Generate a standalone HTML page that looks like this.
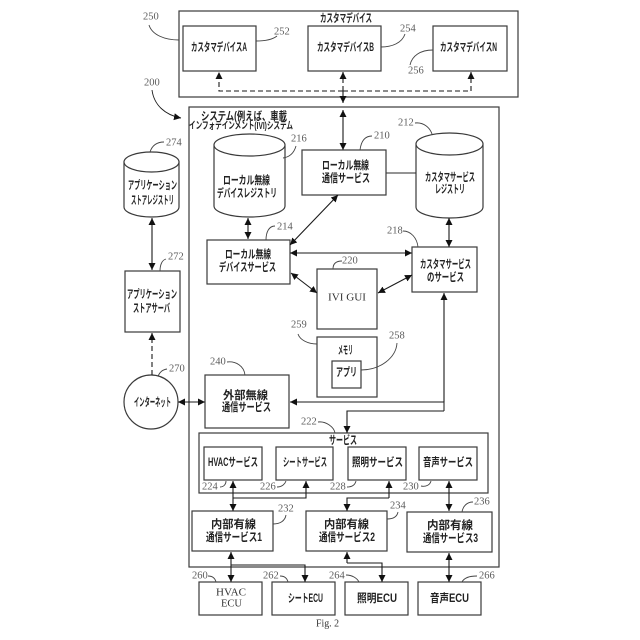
<!DOCTYPE html>
<html><head><meta charset="utf-8"><style>
html,body{margin:0;padding:0;background:#fff}
svg{display:block}
.b{fill:#fff;stroke:#3a3a3a;stroke-width:1.2}
.l{fill:none;stroke:#2a2a2a;stroke-width:1.1}
.a{fill:none;stroke:#1a1a1a;stroke-width:1.1;marker-start:url(#m);marker-end:url(#m)}
.e{fill:none;stroke:#1a1a1a;stroke-width:1.1;marker-end:url(#m)}
.d{stroke-dasharray:5 3}
.k{fill:none;stroke:#444;stroke-width:.9}
text{dominant-baseline:central}
.j{font-family:"Liberation Sans","Noto Sans CJK JP",sans-serif;font-size:11.5px;font-weight:700;fill:#222}
.n{font-family:"Liberation Serif",serif;font-size:10.5px;fill:#5c5c5c}
.s{font-family:"Liberation Serif",serif;font-size:10.5px;fill:#333}
</style></head><body>
<svg width="640" height="640" viewBox="0 0 640 640" xmlns="http://www.w3.org/2000/svg">
<defs><marker id="m" markerUnits="userSpaceOnUse" markerWidth="8" markerHeight="8" refX="7" refY="3.5" orient="auto-start-reverse"><path d="M0 0L7 3.5L0 7Z" fill="#111"/></marker></defs>
<rect width="640" height="640" fill="#fff"/>

<rect class="b" x="179" y="11" width="339" height="86"/>
<rect class="b" x="183" y="26" width="73" height="45"/>
<rect class="b" x="308" y="26" width="73" height="45"/>
<rect class="b" x="433" y="26" width="74" height="45"/>
<rect class="b" x="189" y="107" width="310" height="460"/>

<path class="e d" d="M343 91H219V72"/>
<path class="e d" d="M343 91H471V72"/>
<path class="e d" d="M343 91V72"/>
<path class="e d" d="M343 91V103"/>
<path class="a" d="M343 110V150"/>

<path class="b" d="M124 162V207A27.500 10 0 0 0 179 207V162Z"/>
<ellipse class="b" cx="151.500" cy="162" rx="27.500" ry="10"/>
<path class="b" d="M214 146V206A35.500 11 0 0 0 285 206V146Z"/>
<ellipse class="b" cx="249.500" cy="145" rx="35.500" ry="11"/>
<path class="b" d="M416 145V207A33.500 11 0 0 0 483 207V145Z"/>
<ellipse class="b" cx="449.500" cy="144" rx="33.500" ry="11"/>

<path class="l" d="M386 173H416"/>
<rect class="b" x="302" y="150" width="84" height="45"/>
<rect class="b" x="207" y="240" width="83" height="44"/>
<rect class="b" x="412" y="247" width="65" height="45"/>
<rect class="b" x="317" y="269" width="60" height="60"/>
<rect class="b" x="125" y="271" width="55" height="61"/>
<rect class="b" x="317" y="337" width="60" height="60"/>
<rect class="b" x="332" y="361" width="29" height="27"/>
<circle class="b" cx="151" cy="402" r="27"/>
<rect class="b" x="205" y="375" width="84" height="53"/>
<rect class="b" x="199" y="433" width="289" height="60"/>
<rect class="b" x="204" y="447" width="58" height="33"/>
<rect class="b" x="276" y="447" width="57" height="33"/>
<rect class="b" x="348" y="447" width="58" height="33"/>
<rect class="b" x="419" y="447" width="58" height="33"/>
<rect class="b" x="192" y="511" width="81" height="40"/>
<rect class="b" x="306" y="511" width="81" height="40"/>
<rect class="b" x="407" y="512" width="85" height="40"/>
<rect class="b" x="199" y="582" width="63" height="33"/>
<rect class="b" x="272" y="582" width="63" height="33"/>
<rect class="b" x="345" y="582" width="63" height="33"/>
<rect class="b" x="418" y="582" width="63" height="33"/>

<path class="a" d="M248 218V239"/>
<path class="a" d="M338 195L290 245"/>
<path class="a" d="M290 253H412"/>
<path class="a" d="M291 273L317 293"/>
<path class="a" d="M412 275L378 293"/>
<path class="a" d="M449 218V247"/>
<path class="a" d="M152 218V270"/>
<path class="e d" d="M152 375V333"/>
<path class="a" d="M178 402H205"/>
<path class="e" d="M444 402H290"/>
<path class="e" d="M444 402V293"/>
<path class="l" d="M444 402V411"/>
<path class="e" d="M444 411H347V433"/>
<path class="a" d="M233 481V511"/>
<path class="e" d="M233 498H306V481"/>
<path class="e" d="M389 498V481"/>
<path class="e" d="M389 498H347V511"/>
<path class="a" d="M449 481V511"/>
<path class="a" d="M231 552V582"/>
<path class="e" d="M231 565H305V582"/>
<path class="e" d="M347 563V552"/>
<path class="e" d="M347 563H382V582"/>
<path class="a" d="M449 553V582"/>

<path class="k" d="M149 25C152 35 165 40 179 40"/>
<path class="e" style="stroke-width:.9" d="M152 90C154 105 165 115 181 118"/>
<path class="k" d="M256 41C264 41 272 40 277 36"/>
<path class="k" d="M381 47C392 47 402 43 405 34"/>
<path class="k" d="M433 50C420 50 412 56 410 65"/>
<path class="k" d="M415 123C424 122 430 128 432 134"/>
<path class="k" d="M164 142C156 142 152 146 150 152"/>
<path class="k" d="M296 146C294 153 290 157 283 158"/>
<path class="k" d="M372 136C364 136 361 142 360 150"/>
<path class="k" d="M275 226C269 226 266 232 266 240"/>
<path class="k" d="M403 231C411 231 417 238 418 247"/>
<path class="k" d="M342 261C336 261 333 264 333 269"/>
<path class="k" d="M166 259C162 260 160 265 160 271"/>
<path class="k" d="M298 334C300 340 308 344 317 344"/>
<path class="k" d="M397 343C396 358 380 370 361 370"/>
<path class="k" d="M167 369C162 370 160 372 158 376"/>
<path class="k" d="M227 362C236 361 244 366 245 375"/>
<path class="k" d="M318 422C326 421 334 427 335 433"/>
<path class="k" d="M220 487C224 487 226 484 226 481"/>
<path class="k" d="M277 487C282 487 285 484 286 481"/>
<path class="k" d="M347 487C352 487 355 485 356 481"/>
<path class="k" d="M421 486C426 487 430 485 431 481"/>
<path class="k" d="M286 515C285 521 280 524 273 524"/>
<path class="k" d="M398 512C397 517 393 519 387 519"/>
<path class="k" d="M473 502C467 502 463 506 462 512"/>
<path class="k" d="M208 576C212 576 215 578 216 582"/>
<path class="k" d="M280 576C284 576 287 578 288 582"/>
<path class="k" d="M346 575C352 575 357 578 359 582"/>
<path class="k" d="M477 576C469 576 464 578 462 582"/>

<text class="j" x="320" y="19" textLength="52" lengthAdjust="spacingAndGlyphs">カスタマデバイス</text>
<text class="j" x="191" y="48" textLength="56" lengthAdjust="spacingAndGlyphs">カスタマデバイスA</text>
<text class="j" x="317" y="48" textLength="57" lengthAdjust="spacingAndGlyphs">カスタマデバイスB</text>
<text class="j" x="440" y="48" textLength="57" lengthAdjust="spacingAndGlyphs">カスタマデバイスN</text>
<text class="j" x="201" y="117" textLength="86" lengthAdjust="spacingAndGlyphs">システム(例えば、車載</text>
<text class="j" x="189" y="126.500" textLength="104" lengthAdjust="spacingAndGlyphs" style="font-size:10px">インフォテインメント(IVI)システム</text>
<text class="j" x="223" y="181" textLength="47" lengthAdjust="spacingAndGlyphs">ローカル無線</text>
<text class="j" x="217" y="194" textLength="60" lengthAdjust="spacingAndGlyphs">デバイスレジストリ</text>
<text class="j" x="128" y="186" textLength="49" lengthAdjust="spacingAndGlyphs">アプリケーション</text>
<text class="j" x="131" y="201" textLength="43" lengthAdjust="spacingAndGlyphs">ストアレジストリ</text>
<text class="j" x="322" y="166" textLength="47" lengthAdjust="spacingAndGlyphs">ローカル無線</text>
<text class="j" x="322" y="179" textLength="48" lengthAdjust="spacingAndGlyphs">通信サービス</text>
<text class="j" x="425" y="178" textLength="50" lengthAdjust="spacingAndGlyphs">カスタマサービス</text>
<text class="j" x="435" y="190" textLength="30" lengthAdjust="spacingAndGlyphs">レジストリ</text>
<text class="j" x="225" y="255" textLength="46" lengthAdjust="spacingAndGlyphs">ローカル無線</text>
<text class="j" x="219" y="268" textLength="57" lengthAdjust="spacingAndGlyphs">デバイスサービス</text>
<text class="j" x="420" y="265" textLength="51" lengthAdjust="spacingAndGlyphs">カスタマサービス</text>
<text class="j" x="427" y="278" textLength="37" lengthAdjust="spacingAndGlyphs">のサービス</text>
<text class="s" x="328" y="298" textLength="38" lengthAdjust="spacingAndGlyphs">IVI GUI</text>
<text class="j" x="127" y="295" textLength="50" lengthAdjust="spacingAndGlyphs">アプリケーション</text>
<text class="j" x="133" y="309" textLength="37" lengthAdjust="spacingAndGlyphs">ストアサーバ</text>
<text class="j" x="338" y="351" textLength="15" lengthAdjust="spacingAndGlyphs">メモリ</text>
<text class="j" x="336" y="373" textLength="21" lengthAdjust="spacingAndGlyphs">アプリ</text>
<text class="j" x="134" y="403" textLength="37" lengthAdjust="spacingAndGlyphs">インターネット</text>
<text class="j" x="223" y="396" textLength="45" lengthAdjust="spacingAndGlyphs">外部無線</text>
<text class="j" x="222" y="408" textLength="49" lengthAdjust="spacingAndGlyphs">通信サービス</text>
<text class="j" x="329" y="441" textLength="28" lengthAdjust="spacingAndGlyphs">サービス</text>
<text class="j" x="208" y="463" textLength="50" lengthAdjust="spacingAndGlyphs">HVACサービス</text>
<text class="j" x="283" y="463" textLength="44" lengthAdjust="spacingAndGlyphs">シートサービス</text>
<text class="j" x="352" y="463" textLength="51" lengthAdjust="spacingAndGlyphs">照明サービス</text>
<text class="j" x="423" y="463" textLength="50" lengthAdjust="spacingAndGlyphs">音声サービス</text>
<text class="j" x="211" y="525" textLength="45" lengthAdjust="spacingAndGlyphs">内部有線</text>
<text class="j" x="206" y="538" textLength="56" lengthAdjust="spacingAndGlyphs">通信サービス1</text>
<text class="j" x="324" y="525" textLength="45" lengthAdjust="spacingAndGlyphs">内部有線</text>
<text class="j" x="319" y="538" textLength="56" lengthAdjust="spacingAndGlyphs">通信サービス2</text>
<text class="j" x="427" y="526" textLength="46" lengthAdjust="spacingAndGlyphs">内部有線</text>
<text class="j" x="423" y="539" textLength="55" lengthAdjust="spacingAndGlyphs">通信サービス3</text>
<text class="s" x="216" y="593" textLength="30" lengthAdjust="spacingAndGlyphs">HVAC</text>
<text class="s" x="221" y="604" textLength="21" lengthAdjust="spacingAndGlyphs">ECU</text>
<text class="j" x="288" y="599" textLength="35" lengthAdjust="spacingAndGlyphs">シートECU</text>
<text class="j" x="357" y="599" textLength="40" lengthAdjust="spacingAndGlyphs">照明ECU</text>
<text class="j" x="430" y="599" textLength="39" lengthAdjust="spacingAndGlyphs">音声ECU</text>
<text class="s" x="316" y="624" textLength="23" lengthAdjust="spacingAndGlyphs">Fig. 2</text>

<text class="n" x="143" y="17">250</text>
<text class="n" x="144" y="83">200</text>
<text class="n" x="274" y="32">252</text>
<text class="n" x="400" y="29">254</text>
<text class="n" x="408" y="71">256</text>
<text class="n" x="398" y="123">212</text>
<text class="n" x="166" y="143">274</text>
<text class="n" x="291" y="139">216</text>
<text class="n" x="374" y="136">210</text>
<text class="n" x="277" y="227">214</text>
<text class="n" x="387" y="231">218</text>
<text class="n" x="342" y="261">220</text>
<text class="n" x="168" y="257">272</text>
<text class="n" x="291" y="325">259</text>
<text class="n" x="389" y="336">258</text>
<text class="n" x="169" y="369">270</text>
<text class="n" x="210" y="362">240</text>
<text class="n" x="301" y="422">222</text>
<text class="n" x="202" y="487">224</text>
<text class="n" x="260" y="487">226</text>
<text class="n" x="330" y="487">228</text>
<text class="n" x="403" y="487">230</text>
<text class="n" x="278" y="509">232</text>
<text class="n" x="390" y="506">234</text>
<text class="n" x="474" y="502">236</text>
<text class="n" x="192" y="576">260</text>
<text class="n" x="263" y="576">262</text>
<text class="n" x="329" y="576">264</text>
<text class="n" x="479" y="576">266</text>
</svg>
</body></html>
